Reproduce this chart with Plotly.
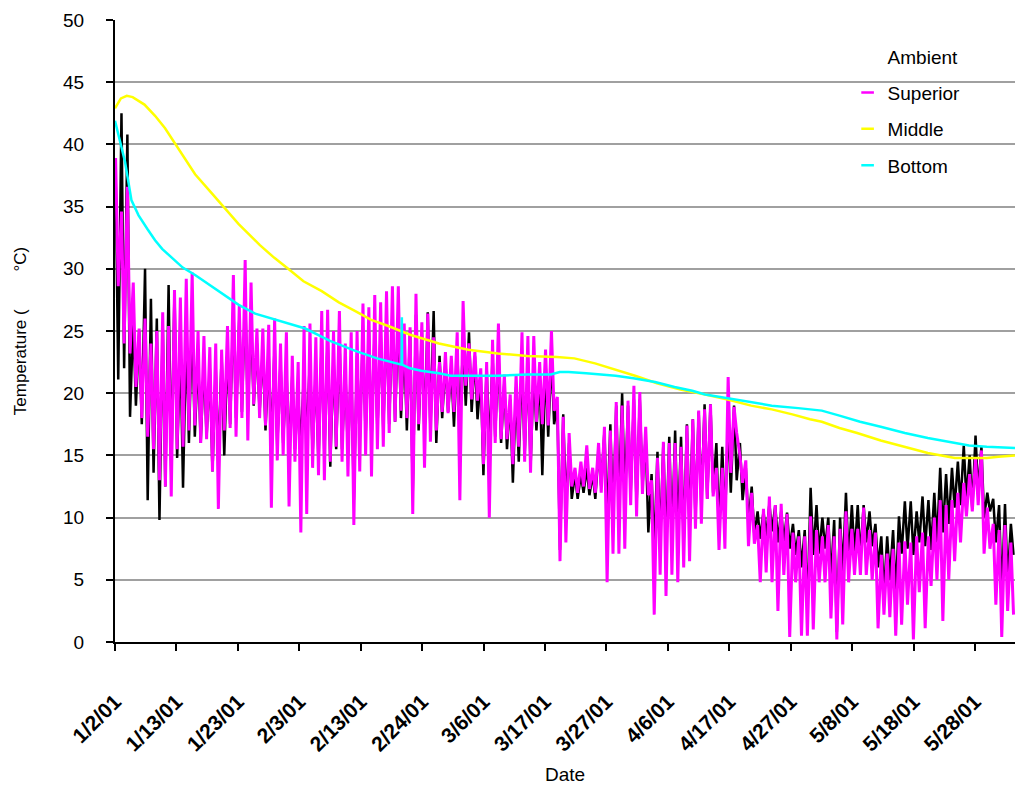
import datetime as dt
import plotly.graph_objects as go

# ---- data: daily extremes of the two exposed sensors (deg C), one entry per day from 1/2/01 ----
amb_hi = [38.0, 42.5, 40.8, 26.0, 25.0, 30.0, 27.6, 26.0, 25.5, 28.7, 28.3, 24.0, 25.0, 26.0, 23.0, 22.5, 22.0, 22.0, 23.0, 23.5, 27.0, 26.0, 28.0, 26.0, 24.0,
          23.5, 23.0, 24.0, 22.5, 22.0, 21.5, 20.0, 22.0, 23.0, 22.0, 24.5, 24.5, 23.0, 24.5, 22.0, 22.5, 23.0, 25.0, 25.0, 25.5, 25.0, 26.0, 26.5, 26.5, 24.0,
          25.0, 26.3, 25.0, 26.5, 26.6, 23.0, 22.5, 22.0, 23.5, 24.0, 24.9, 23.0, 21.5, 22.1, 23.0, 23.5, 20.9, 19.5, 20.5, 22.5, 22.5, 22.0, 21.5, 22.5, 23.0, 19.0,
          18.3, 16.0, 13.5, 13.5, 14.0, 13.5, 15.5, 17.0, 17.5, 19.0, 20.0, 19.0, 19.5, 19.5, 16.5, 13.5, 15.3, 16.0, 16.5, 17.0, 16.5, 17.5, 17.9, 18.5, 19.1,
          19.1, 16.0, 15.7, 18.0, 19.0, 16.0, 14.0, 12.5, 10.5, 10.5, 11.1, 11.0, 10.5, 10.4, 9.5, 9.0, 9.0, 12.4, 11.0, 10.0, 10.0, 9.8, 10.0, 12.0, 11.0,
          11.0, 11.0, 10.5, 9.5, 8.5, 8.5, 9.0, 10.1, 11.3, 11.3, 10.5, 11.7, 11.4, 12.0, 14.0, 13.5, 14.0, 14.5, 15.8, 15.0, 16.6, 15.7, 12.0, 11.5, 11.0, 11.1, 9.5]
amb_lo = [21.1, 22.0, 18.1, 19.0, 17.5, 11.4, 13.6, 9.8, 12.5, 13.5, 14.8, 12.4, 16.0, 16.5, 16.0, 16.5, 13.7, 14.5, 15.0, 17.5, 18.0, 18.5, 18.5, 19.0, 18.5,
          17.0, 15.7, 15.7, 16.0, 15.1, 15.5, 15.5, 16.0, 15.1, 14.3, 15.0, 14.1, 15.5, 15.5, 15.0, 11.4, 16.2, 16.5, 16.0, 17.0, 17.0, 17.5, 17.7, 18.0, 17.0,
          12.0, 17.0, 16.6, 17.0, 16.0, 18.0, 18.5, 17.3, 17.5, 19.0, 18.5, 17.9, 13.4, 15.0, 16.5, 16.0, 15.5, 12.8, 14.5, 15.0, 14.0, 17.0, 13.4, 16.5, 17.5, 7.4,
          11.0, 11.5, 11.5, 12.0, 11.8, 11.5, 12.5, 9.4, 10.0, 11.0, 11.5, 12.0, 11.0, 12.5, 8.8, 7.1, 8.0, 7.5, 8.0, 8.5, 8.0, 9.0, 10.0, 11.0, 11.5,
          12.0, 9.0, 9.5, 12.0, 13.0, 11.4, 9.5, 8.5, 8.3, 8.5, 8.9, 8.0, 8.0, 7.5, 7.0, 6.0, 2.5, 7.0, 7.1, 7.5, 5.0, 0.8, 5.5, 6.5, 7.0,
          6.8, 8.0, 7.7, 6.0, 3.7, 5.0, 3.7, 7.1, 7.5, 7.0, 8.0, 7.7, 7.4, 8.0, 8.8, 9.5, 10.8, 11.0, 11.5, 10.7, 12.0, 10.0, 10.5, 8.0, 3.7, 4.8, 7.0]
sup_hi = [38.9, 34.6, 36.6, 28.9, 25.2, 26.0, 24.0, 25.0, 26.5, 25.4, 28.3, 27.7, 29.2, 29.7, 25.0, 24.6, 23.7, 24.0, 23.5, 25.4, 29.5, 27.0, 30.7, 28.9, 25.2,
          25.2, 25.5, 26.0, 24.0, 24.9, 23.0, 22.5, 25.4, 25.6, 24.5, 26.6, 26.7, 25.0, 26.6, 24.0, 24.9, 25.0, 27.2, 26.9, 27.9, 27.3, 28.2, 28.6, 28.6, 25.6,
          25.3, 28.0, 25.7, 26.4, 24.5, 22.5, 23.3, 23.0, 24.9, 27.4, 24.0, 23.3, 22.0, 22.5, 24.3, 25.6, 21.5, 19.9, 21.5, 24.9, 24.6, 24.6, 22.5, 23.5, 25.0, 19.7,
          18.1, 16.8, 14.0, 14.5, 15.8, 14.0, 16.0, 17.3, 17.0, 19.3, 19.0, 19.4, 20.6, 20.1, 17.3, 13.0, 14.8, 16.1, 16.0, 16.0, 15.7, 17.4, 17.9, 18.6, 18.7,
          19.1, 14.0, 14.0, 21.3, 18.9, 15.0, 14.6, 12.0, 9.4, 10.7, 11.7, 11.0, 11.1, 10.3, 8.8, 8.5, 8.5, 10.1, 9.0, 8.5, 9.4, 8.5, 9.1, 10.5, 9.1,
          9.1, 10.8, 9.0, 8.8, 7.0, 7.1, 7.5, 8.0, 8.1, 8.0, 8.5, 8.8, 8.5, 10.0, 11.4, 11.0, 11.4, 12.0, 12.8, 13.5, 14.8, 15.4, 10.8, 9.5, 9.0, 9.4, 8.0]
sup_lo = [28.6, 24.0, 23.2, 20.5, 18.0, 16.5, 15.5, 13.0, 12.5, 11.7, 15.5, 15.7, 17.0, 17.4, 16.0, 16.3, 13.7, 10.7, 17.0, 17.2, 16.5, 18.0, 16.2, 19.1, 18.0,
          17.4, 10.8, 14.6, 15.0, 10.9, 14.5, 8.8, 10.3, 14.0, 13.4, 13.0, 14.5, 15.7, 14.5, 13.3, 9.4, 13.7, 15.0, 13.3, 15.5, 15.7, 16.8, 17.7, 18.6, 18.0,
          10.3, 17.5, 14.0, 16.1, 17.0, 18.5, 18.4, 18.5, 11.4, 20.6, 19.5, 19.4, 14.3, 10.0, 16.0, 16.3, 16.3, 14.3, 15.7, 14.5, 13.6, 17.7, 17.5, 17.4, 18.6, 6.5,
          8.0, 12.5, 12.0, 12.5, 12.3, 12.0, 12.0, 4.8, 7.1, 7.1, 7.5, 11.0, 10.1, 11.9, 11.8, 2.2, 5.4, 3.7, 5.4, 4.8, 6.0, 6.5, 9.1, 9.5, 11.5,
          11.7, 7.4, 7.5, 13.6, 16.8, 12.8, 7.7, 7.9, 4.8, 5.6, 4.8, 2.5, 5.4, 0.4, 4.8, 0.5, 0.5, 1.0, 4.8, 4.8, 1.9, 0.2, 1.4, 4.8, 5.4,
          5.4, 5.4, 5.0, 1.1, 2.2, 2.0, 0.5, 1.4, 3.0, 0.2, 4.0, 1.1, 4.5, 5.0, 1.7, 5.0, 6.5, 8.0, 10.1, 10.5, 11.0, 7.1, 7.5, 3.0, 0.4, 2.5, 2.2]

# ---- data: slowly varying sensors, (day offset from 1/2/01, deg C) ----
mid_days = [0, 1, 2, 3, 5, 6.8, 8.5, 10.2, 12, 13.6, 16, 18.1, 21, 24.6, 27, 29.4, 32, 35.1, 38, 40.8, 43.5, 46.4,
            50.1, 55, 60, 65, 70, 75, 78, 81.5, 85, 88.3, 92, 96, 100.2, 104, 108, 111.5, 115, 118, 120, 123, 126,
            130, 134, 138, 142.6, 145, 148, 150, 152.8]
mid_vals = [42.9, 43.7, 43.9, 43.8, 43.2, 42.3, 41.3, 40.1, 38.8, 37.6, 36.3, 35.2, 33.6, 31.9, 30.9, 30.0, 29.0, 28.2, 27.3, 26.6, 25.9, 25.4,
            24.7, 24.0, 23.5, 23.2, 23.0, 22.9, 22.8, 22.4, 21.9, 21.4, 20.8, 20.3, 19.9, 19.5, 19.0, 18.7, 18.3, 17.9, 17.7, 17.2, 16.8,
            16.2, 15.7, 15.2, 14.8, 14.8, 14.8, 14.9, 15.0]
bot_days = [0, 0.85, 1.7, 2.8, 4, 5.5, 6.8, 8, 9.6, 11.5, 13.6, 16, 18.1, 21, 23.8, 28, 32.3, 36.5, 40.8, 44.5, 48.65, 48.7, 48.75,
            50.1, 52, 55, 57, 60, 65, 70, 74, 75.5, 77, 80, 85, 88, 91.7, 95, 98, 100.2, 105, 111.5, 116, 120, 123, 126.5,
            130, 134.1, 138, 142.6, 145, 148, 152.8]
bot_vals = [41.9, 40.3, 38.6, 35.5, 34.3, 33.2, 32.3, 31.6, 30.9, 30.1, 29.5, 28.7, 28.0, 27.1, 26.4, 25.8, 25.2, 24.2, 23.4, 22.8, 22.3, 26.1, 22.3,
            22.0, 21.8, 21.6, 21.4, 21.4, 21.4, 21.5, 21.5, 21.7, 21.7, 21.6, 21.4, 21.2, 20.9, 20.5, 20.2, 19.9, 19.5, 19.0, 18.8, 18.6, 18.2, 17.7,
            17.3, 16.8, 16.4, 16.0, 15.8, 15.7, 15.6]

# ---- axis labels ----
tick_labels = ["1/2/01", "1/13/01", "1/23/01", "2/3/01", "2/13/01", "2/24/01", "3/6/01", "3/17/01",
               "3/27/01", "4/6/01", "4/17/01", "4/27/01", "5/8/01", "5/18/01", "5/28/01"]

START = dt.datetime(2001, 1, 2)
TICK_STEP = 146 / 14      # days between labelled ticks
X_END = 152.8             # days shown


def at(day):
    return START + dt.timedelta(days=day)


def daily_series(hi, lo):
    xs, ys = [], []
    for d, (h, l) in enumerate(zip(hi, lo)):
        xs += [at(d + 0.1), at(d + 0.55)]
        ys += [h, l]
    return xs, ys


amb_x, amb_y = daily_series(amb_hi, amb_lo)
sup_x, sup_y = daily_series(sup_hi, sup_lo)

fig = go.Figure()
fig.add_trace(go.Scatter(x=amb_x, y=amb_y, mode="lines", line=dict(color="#000000", width=2.5),
                         showlegend=False, name="Ambient"))
fig.add_trace(go.Scatter(x=sup_x, y=sup_y, mode="lines", line=dict(color="#FF00FF", width=3),
                         showlegend=False, name="Superior"))
fig.add_trace(go.Scatter(x=[at(d) for d in mid_days], y=mid_vals, mode="lines",
                         line=dict(color="#FFFF00", width=2.5), showlegend=False, name="Middle"))
fig.add_trace(go.Scatter(x=[at(d) for d in bot_days], y=bot_vals, mode="lines",
                         line=dict(color="#00FFFF", width=2.5), showlegend=False, name="Bottom"))

# legend keys: short dashes
legend_keys = [("Ambient", "rgba(0,0,0,0)"), ("Superior", "#FF00FF"),
               ("Middle", "#FFFF00"), ("Bottom", "#00FFFF")]
for name, col in legend_keys:
    fig.add_trace(go.Scatter(x=[None], y=[None], mode="markers", name=name, legendgroup=name,
                             marker=dict(symbol="line-ew", size=9, color=col,
                                         line=dict(color=col, width=2.5))))

fig.update_layout(
    width=1015, height=785,
    margin=dict(l=115, r=0, t=20, b=143),
    paper_bgcolor="white", plot_bgcolor="white",
    font=dict(family="Liberation Sans, Arial, sans-serif", size=19, color="black"),
    legend=dict(x=0.814, y=0.972, xanchor="left", yanchor="top", bgcolor="rgba(0,0,0,0)",
                font=dict(size=19), tracegroupgap=8.6),
    showlegend=True,
)
fig.update_xaxes(
    type="date",
    range=[at(0), at(X_END)],
    tickvals=[at(k * TICK_STEP) for k in range(len(tick_labels))],
    ticktext=tick_labels,
    tickangle=-45,
    tickfont=dict(size=21, weight="bold"),
    ticks="outside", ticklen=7, tickwidth=2, tickcolor="black",
    ticklabelstandoff=30,
    showline=True, linecolor="black", linewidth=2,
    showgrid=False, zeroline=False,
    automargin=False,
    title=dict(text="Date", font=dict(size=19), standoff=29),
)
fig.update_yaxes(
    range=[0, 50], dtick=5,
    ticks="outside", ticklen=7, tickwidth=2, tickcolor="black",
    ticklabelstandoff=18,
    showline=True, linecolor="black", linewidth=2,
    showgrid=True, gridcolor="#A0A0A0", gridwidth=2,
    zeroline=False,
    automargin=False,
    title=dict(text="Temperature (" + "\u00a0" * 8 + "°C)",
               font=dict(family="Liberation Sans, Arial, sans-serif", size=17),
               standoff=32),
)

fig.write_html("out.html")
